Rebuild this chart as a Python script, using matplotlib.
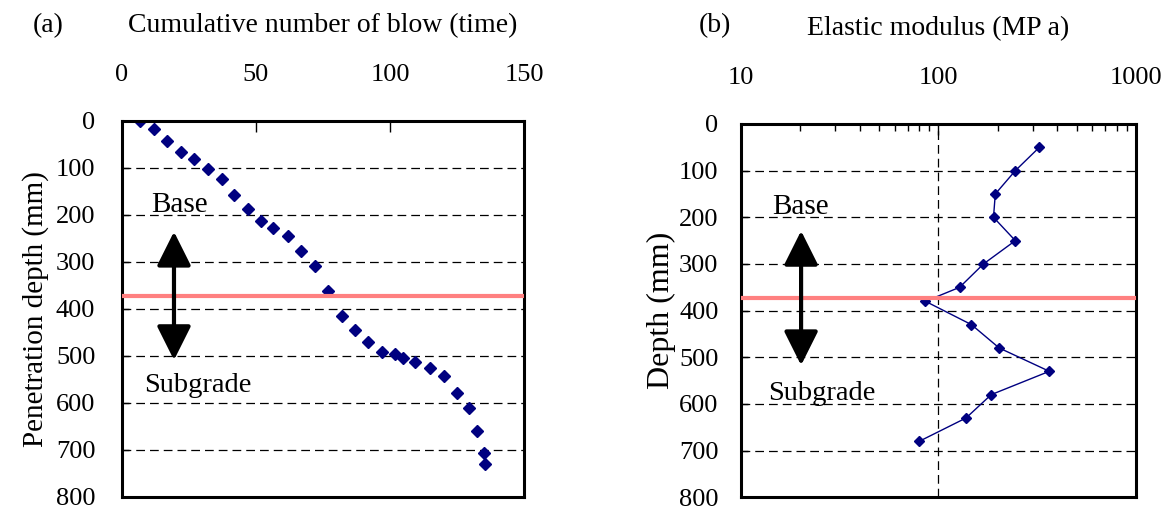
import numpy as np
import matplotlib
matplotlib.use('Agg')
import matplotlib.pyplot as plt
from matplotlib.ticker import FixedLocator, FixedFormatter, LogLocator, NullFormatter

plt.rcParams['font.family'] = ['Liberation Serif', 'DejaVu Serif']

# (a) cumulative blows vs penetration depth
blows = [7, 12, 17, 22, 27, 32, 37.5, 42, 47, 52, 56.5, 62, 67, 72, 77, 82, 87,
         92, 97, 102, 105, 109.5, 115, 120, 125, 129.5, 132.5, 135, 135.5]
pen_depth = [0, 18, 44, 66, 82, 103, 124, 158, 188, 213, 229, 245, 277, 309,
             363, 415, 445, 471, 492, 496, 505, 514, 526, 543, 578, 611, 659, 706, 730]

# (b) elastic modulus vs depth
modulus = [324, 245, 194, 190, 245, 169, 128, 86, 147, 203, 364, 185, 138, 80]
depth_b = [50, 100, 150, 200, 250, 300, 350, 380, 430, 480, 530, 580, 630, 680]

interface = 372   # base / subgrade boundary (mm)

navy = '#000080'
pink = '#ff8080'

fig = plt.figure(figsize=(11.7, 5.13), dpi=100)
ax1 = fig.add_axes([0.104, 0.0312, 0.3439, 0.7335])
ax2 = fig.add_axes([0.6331, 0.0306, 0.3379, 0.7277])


def style(ax):
    for s in ax.spines.values():
        s.set_linewidth(2.2)
    ax.set_ylim(800, 0)
    ax.set_yticks(np.arange(0, 801, 100))
    ax.grid(axis='y', which='major', color='black', lw=0.9, linestyle=(0, (7, 4)))
    ax.xaxis.tick_top()
    ax.xaxis.set_label_position('top')
    ax.tick_params(axis='y', direction='in', length=5, width=1, labelsize=19, pad=19)
    ax.tick_params(axis='x', which='both', direction='in', labelsize=19, pad=25)
    ax.set_axisbelow(True)


def arrow(ax, x, y0, y1):
    ax.annotate('', xy=(x, y0), xytext=(x, y1),
                arrowprops=dict(arrowstyle='<|-|>,head_length=1.4,head_width=0.7',
                                mutation_scale=15, lw=3, color='black',
                                shrinkA=0, shrinkB=0))


# ---- (a) ----
ax1.plot(blows, pen_depth, 'D', color=navy, ms=6.5, zorder=2)
ax1.axhline(interface, color=pink, lw=3, zorder=3)
ax1.set_xlim(0, 150)
ax1.set_xticks([0, 50, 100, 150])
style(ax1)
ax1.tick_params(axis='x', length=8, width=1)
ax1.set_xlabel('Cumulative number of blow (time)', fontsize=20, labelpad=23)
ax1.set_ylabel('Penetration depth (mm)', fontsize=21, labelpad=5)
arrow(ax1, 19.5, 236, 509)
ax1.text(11, 180, 'Base', fontsize=21, va='center', ha='left')
ax1.text(8.5, 562, 'Subgrade', fontsize=20.5, va='center', ha='left')

# ---- (b) ----
ax2.plot(modulus, depth_b, '-D', color=navy, ms=5.5, lw=1, zorder=2)
ax2.axhline(interface, color=pink, lw=3, zorder=3)
ax2.set_xscale('log')
ax2.set_xlim(10, 1000)
ax2.xaxis.set_major_locator(FixedLocator([10, 100, 1000]))
ax2.xaxis.set_major_formatter(FixedFormatter(['10', '100', '1000']))
ax2.xaxis.set_minor_locator(LogLocator(base=10, subs=np.arange(2, 10)))
ax2.xaxis.set_minor_formatter(NullFormatter())
style(ax2)
ax2.grid(axis='x', which='major', color='black', lw=0.9, linestyle=(0, (7, 4)))
ax2.tick_params(axis='x', which='major', length=8, width=1)
ax2.tick_params(axis='x', which='minor', length=5, width=1)
ax2.tick_params(axis='y', pad=16)
ax2.set_xlabel('Elastic modulus (MP a)', fontsize=20, labelpad=23)
ax2.set_ylabel('Depth (mm)', fontsize=23, labelpad=2)
arrow(ax2, 20.2, 229, 517)
ax2.text(14.5, 178, 'Base', fontsize=21, va='center', ha='left')
ax2.text(13.7, 577, 'Subgrade', fontsize=20.5, va='center', ha='left')

fig.text(0.028, 0.951, '(a)', fontsize=20, va='center', ha='left')
fig.text(0.597, 0.951, '(b)', fontsize=20, va='center', ha='left')

fig.savefig('out.png', dpi=100)
